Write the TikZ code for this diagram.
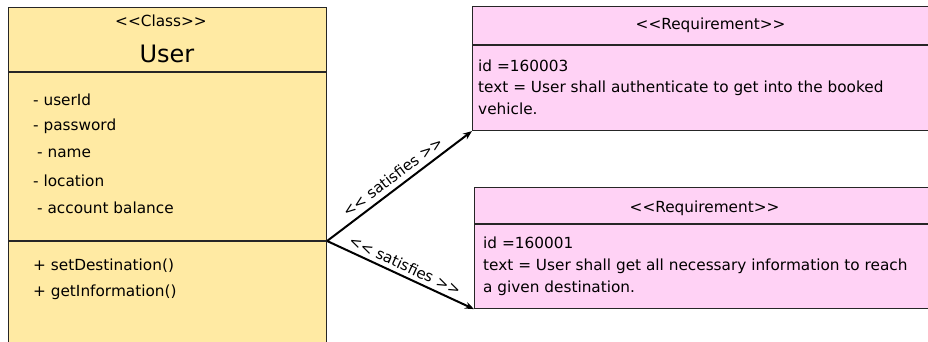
\documentclass[tikz,border=0pt]{standalone}
\usepackage{fontspec}
\setmainfont{DejaVu Sans}
\usetikzlibrary{arrows.meta}
\definecolor{classfill}{HTML}{FFEAA3}
\definecolor{reqfill}{HTML}{FFD2F5}
\newcommand{\ltlt}{<\kern0pt<}
\newcommand{\gtgt}{>\kern0pt>}
\tikzset{
    box/.style={draw=black!85, line width=1.1pt, inner sep=0pt, anchor=north west},
    rule/.style={draw=black!85, line width=1.1pt},
    txt/.style={anchor=base west, inner sep=0pt, font=\fontsize{15.3}{18}\selectfont},
    head/.style={anchor=base, inner sep=0pt, font=\fontsize{15.3}{18}\selectfont},
    satisfy/.style={-{Stealth[length=9pt,width=7pt]}, line width=2pt},
}

\begin{document}
\begin{tikzpicture}[x=1pt,y=-1pt]
        \useasboundingbox (0,0) rectangle (928,342);
        \clip (0,0) rectangle (928,342);
        % class
        \node[box, fill=classfill, minimum width=318pt, minimum height=380pt] (user) at (8,7) {};
        \draw[rule] (user.west |- 0,72) -- (user.east |- 0,72);
        \draw[rule] (user.west |- 0,241) -- (user.east |- 0,241);
        \coordinate (split) at (user.east |- 0,241);
        \node[head] (stereo) at (161,27) {\ltlt Class\gtgt};
        \node[head, font=\fontsize{24}{28}\selectfont] (name) at (167,63) {User};
        \foreach \x/\y/\t in {33/106/{- userId}, 33/131/{- password}, 37/157/{- name}, 33/186/{- location}, 37/213/{- account balance}} {
                \node[txt] (attr-\y) at (\x,\y) {\t};
            }
        \foreach \y/\t in {270/{+ setDestination()}, 296/{+ getInformation()}} {
                \node[txt] (op-\y) at (33,\y) {\t};
            }
        % requirements
        \node[box, fill=reqfill, minimum width=476pt, minimum height=124pt] (req1) at (472,6) {};
        \draw[rule] (req1.west |- 0,45) -- (req1.east |- 0,45);
        \node[head] (rhead1) at (req1.center |- 0,30) {\ltlt Requirement\gtgt};
        \foreach \y/\t in {72/{id =160003}, 93/{text = User shall authenticate to get into the booked}, 114/{vehicle.}} {
                \node[txt] (r1-\y) at (478,\y) {\t};
            }
        \node[box, fill=reqfill, minimum width=460pt, minimum height=121pt] (req2) at (474,187) {};
        \draw[rule] (req2.west |- 0,224) -- (req2.east |- 0,224);
        \node[head] (rhead2) at (req2.center |- 0,212) {\ltlt Requirement\gtgt};
        \foreach \y/\t in {248/{id =160001}, 270/{text = User shall get all necessary information to reach}, 292/{a given destination.}} {
                \node[txt] (r2-\y) at (483,\y) {\t};
            }
        % satisfies
        \draw[satisfy] (split) -- node[sloped, above=5pt, font=\fontsize{15}{18}\selectfont, inner sep=0pt] (sat1) {\ltlt{} satisfies \gtgt} (req1.south west);
        \draw[satisfy] (split) -- node[sloped, above=4pt, font=\fontsize{15}{18}\selectfont, inner sep=0pt] (sat2) {\ltlt{} satisfies \gtgt} (req2.south west);
    \end{tikzpicture}
\end{document}
